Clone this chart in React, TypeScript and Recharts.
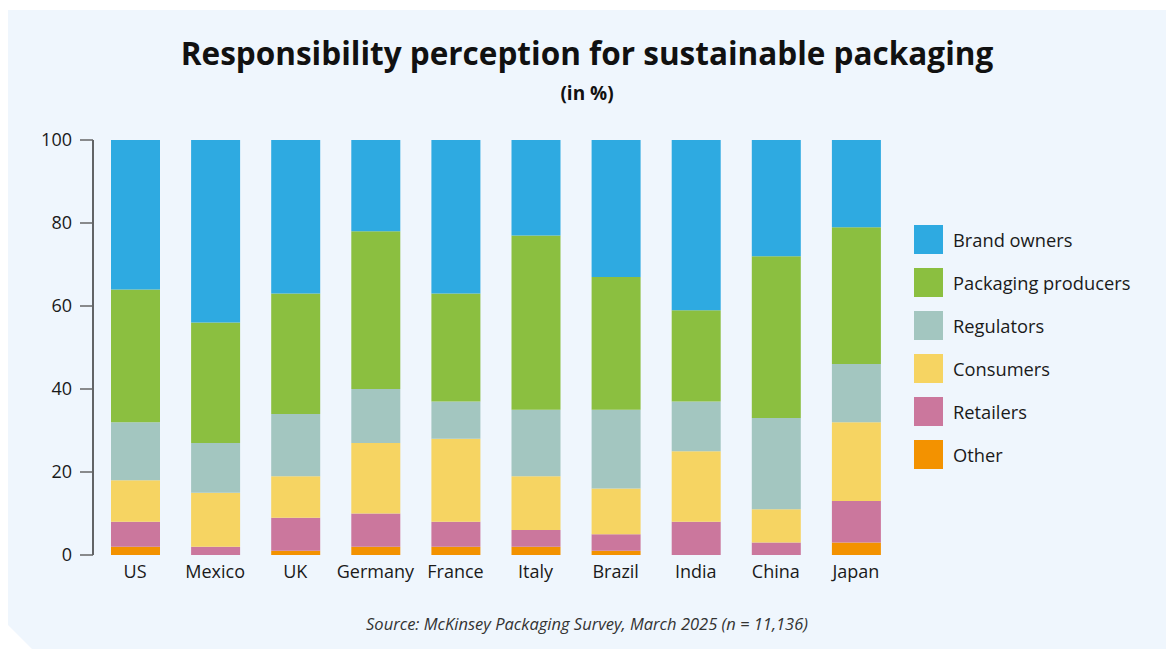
import { BarChart, Bar, XAxis, YAxis } from 'recharts'

const countries = ['US', 'Mexico', 'UK', 'Germany', 'France', 'Italy', 'Brazil', 'India', 'China', 'Japan']

// stacked bottom to top
const other = [2, 0, 1, 2, 2, 2, 1, 0, 0, 3]
const retailers = [6, 2, 8, 8, 6, 4, 4, 8, 3, 10]
const consumers = [10, 13, 10, 17, 20, 13, 11, 17, 8, 19]
const regulators = [14, 12, 15, 13, 9, 16, 19, 12, 22, 14]
const packagingProducers = [32, 29, 29, 38, 26, 42, 32, 22, 39, 33]
const brandOwners = [36, 44, 37, 22, 37, 23, 33, 41, 28, 21]

const yTicks = [0, 20, 40, 60, 80, 100]

const SERIES = [
  { key: 'other', name: 'Other', color: '#F39200' },
  { key: 'retailers', name: 'Retailers', color: '#CB779D' },
  { key: 'consumers', name: 'Consumers', color: '#F6D462' },
  { key: 'regulators', name: 'Regulators', color: '#A3C6C0' },
  { key: 'packaging', name: 'Packaging producers', color: '#8BBF40' },
  { key: 'brand', name: 'Brand owners', color: '#2EAAE1' },
]

const data = countries.map((country, i) => ({
  country,
  other: other[i],
  retailers: retailers[i],
  consumers: consumers[i],
  regulators: regulators[i],
  packaging: packagingProducers[i],
  brand: brandOwners[i],
}))

const FONT = '"Open Sans", "Noto Sans", sans-serif'

function LegendList() {
  const items = [...SERIES].reverse()
  return (
    <div style={{ position: 'absolute', left: 906, top: 208 }}>
      {items.map((s) => (
        <div key={s.key} style={{ display: 'flex', alignItems: 'center', height: 43 }}>
          <div style={{ width: 29, height: 29, background: s.color, marginRight: 10 }} />
          <span style={{ fontSize: 18.3, color: '#1a1a1a' }}>{s.name}</span>
        </div>
      ))}
    </div>
  )
}

export default function App() {
  return (
    <div
      style={{
        position: 'absolute',
        left: 8,
        top: 10,
        width: 1158,
        height: 639,
        background: '#EFF6FD',
        clipPath: 'polygon(0 0, 100% 0, 100% 100%, 24px 100%, 0 calc(100% - 24px))',
        fontFamily: FONT,
      }}
    >
      <div
        style={{
          position: 'absolute',
          top: 21,
          left: 0,
          width: '100%',
          textAlign: 'center',
          fontSize: 31.5,
          fontWeight: 700,
          color: '#111',
        }}
      >
        Responsibility perception for sustainable packaging
      </div>
      <div
        style={{
          position: 'absolute',
          top: 70,
          left: 0,
          width: '100%',
          textAlign: 'center',
          fontSize: 19,
          fontWeight: 700,
          color: '#111',
        }}
      >
        (in %)
      </div>

      <BarChart
        width={1158}
        height={639}
        data={data}
        margin={{ top: 130, right: 270, bottom: 0, left: 0 }}
        style={{ position: 'absolute', left: 0, top: 0 }}
      >
        <XAxis
          dataKey="country"
          axisLine={false}
          tickLine={false}
          tickSize={0}
          tickMargin={10}
          height={94}
          padding={{ left: 2, right: 0 }}
          tick={{ fontSize: 18, fill: '#1a1a1a', fontFamily: FONT }}
          interval={0}
        />
        <YAxis
          domain={[0, 100]}
          ticks={yTicks}
          width={85}
          tickSize={13}
          tickMargin={8}
          axisLine={{ stroke: '#333', strokeWidth: 1.5 }}
          tickLine={{ stroke: '#666', strokeWidth: 1.5 }}
          tick={{ fontSize: 18, fill: '#1a1a1a', fontFamily: FONT }}
        />
        {SERIES.map((s) => (
          <Bar
            key={s.key}
            dataKey={s.key}
            name={s.name}
            stackId="a"
            fill={s.color}
            barSize={49}
            isAnimationActive={false}
          />
        ))}
      </BarChart>

      <LegendList />

      <div
        style={{
          position: 'absolute',
          top: 602,
          left: 0,
          width: '100%',
          textAlign: 'center',
          fontSize: 16.5,
          fontStyle: 'italic',
          color: '#333',
        }}
      >
        Source: McKinsey Packaging Survey, March 2025 (n = 11,136)
      </div>
    </div>
  )
}
